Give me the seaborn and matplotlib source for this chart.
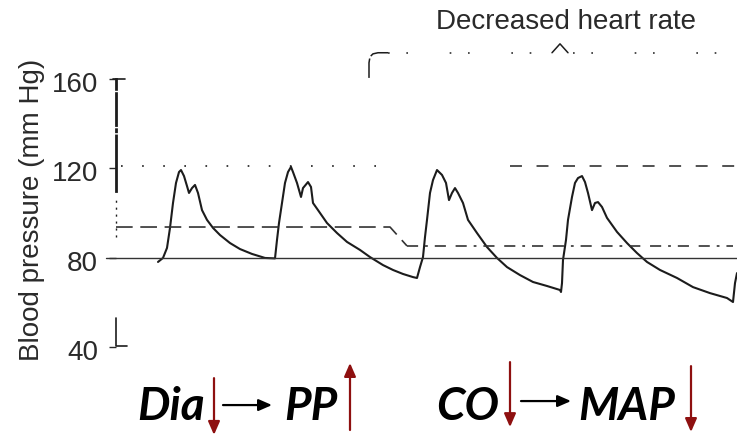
import matplotlib
matplotlib.use("Agg")
import matplotlib.pyplot as plt
from matplotlib.patches import FancyArrowPatch
from matplotlib.transforms import ScaledTranslation
import pandas as pd
import seaborn as sns

# ==============================
# Data (time in s, pressure in mmHg)
# ==============================
t_beat1 = [1.58, 1.63, 1.67, 1.70, 1.73, 1.76, 1.79, 1.81, 1.84, 1.87, 1.89, 1.92,
           1.95, 1.98, 2.02, 2.07, 2.13, 2.20, 2.30, 2.40, 2.52, 2.65, 2.75]
p_beat1 = [78.0, 79.8, 84.3, 93.3, 104.5, 113.5, 118.4, 119.3, 116.6, 112.1, 109.0, 111.2,
           112.6, 109.0, 101.3, 96.9, 93.3, 90.1, 86.5, 83.8, 81.6, 79.8, 79.6]

t_beat2 = [2.77, 2.79, 2.82, 2.85, 2.88, 2.91, 2.93, 2.97, 3.01, 3.03, 3.08, 3.11,
           3.13, 3.18, 3.27, 3.37, 3.47, 3.60, 3.70, 3.83, 3.93, 4.03, 4.13]
p_beat2 = [87.9, 95.5, 104.5, 113.5, 118.4, 120.7, 118.4, 113.5, 107.2, 111.2, 113.9, 111.7,
           104.5, 101.3, 95.5, 91.0, 87.0, 83.4, 80.2, 76.6, 74.4, 72.6, 71.2]

t_beat3 = [4.17, 4.20, 4.23, 4.25, 4.27, 4.30, 4.33, 4.37, 4.42, 4.46, 4.49, 4.52,
           4.55, 4.58, 4.63, 4.68, 4.77, 4.87, 4.97, 5.07, 5.20, 5.33, 5.47, 5.60]
p_beat3 = [70.8, 75.7, 80.2, 89.2, 96.9, 109.0, 114.8, 119.3, 117.1, 113.5, 105.8, 109.0,
           111.2, 109.0, 104.5, 96.9, 91.0, 84.7, 79.8, 75.7, 72.1, 69.0, 67.2, 65.4]

t_beat4 = [5.61, 5.62, 5.63, 5.66, 5.68, 5.72, 5.75, 5.78, 5.82, 5.85, 5.88, 5.92, 5.95, 5.98,
           6.02, 6.07, 6.17, 6.27, 6.37, 6.47, 6.60, 6.77, 6.93, 7.10, 7.27, 7.33, 7.35, 7.37]
p_beat4 = [64.5, 68.5, 78.9, 87.9, 96.9, 107.2, 113.5, 115.7, 116.6, 113.9, 109.0, 101.3, 104.5, 104.9,
           102.7, 97.8, 91.5, 86.5, 82.0, 78.0, 74.4, 70.8, 66.7, 64.0, 61.8, 60.0, 68.5, 73.0]

# reference levels (mmHg) and where they run (s)
base_level = 80
base_t = [1.06, 7.37]
sys_level = 121
sys_t_before = [1.21, 3.90]
sys_t_after = [5.10, 7.37]
map_t_before = [1.16, 3.90, 4.07]
map_p_before = [93.7, 93.7, 85.2]
map_t_after = [4.07, 7.33]
map_level_after = 85.2

# bracket over the slow beats
brace_t = [3.69, 3.69, 3.70, 3.73, 3.78, 3.88]
brace_p = [160.7, 167.5, 170.2, 171.5, 172.0, 172.0]
brace_span_t = [3.88, 7.37]
brace_level = 172.0
brace_peak_t = [5.52, 5.60, 5.68]
brace_peak_p = [172.0, 176.0, 172.0]

y_ticks = [40, 80, 120, 160]
axis_x = 1.16
axis_dotted = [89.2, 106.7]
axis_foot_t = [1.16, 1.16, 1.27]
axis_foot_p = [52.8, 40.2, 40.2]

bottom_words = ["Dia", "PP", "CO", "MAP"]
bottom_x = [1.37, 2.84, 4.36, 5.78]
red_x = [2.14, 3.50, 5.10, 6.91]
red_from = [25.8, 2.5, 33.0, 31.2]
red_to = [0.3, 32.6, 3.8, 1.6]
black_from = [2.23, 5.21]
black_to = [2.72, 5.71]
black_p = [13.7, 15.5]

# ==============================
# Figure
# ==============================
sns.set_style("white")
plt.rcParams["font.family"] = ["Liberation Sans", "DejaVu Sans"]
plt.rcParams["lines.scale_dashes"] = False

ink = "#1c1c1c"
dark_red = "#8e1010"

fig = plt.figure(figsize=(7.37, 4.36), dpi=100)
ax = fig.add_axes([0, 0, 1, 1])

wave = pd.DataFrame({
    "t": t_beat1 + t_beat2 + t_beat3 + t_beat4,
    "p": p_beat1 + p_beat2 + p_beat3 + p_beat4,
})
sns.lineplot(data=wave, x="t", y="p", sort=False, estimator=None,
             color=ink, lw=1.5, ax=ax)
ax.set_xlabel("")

# reference lines
ax.plot(base_t, [base_level] * 2, color="#333333", lw=1.0)
ax.plot(sys_t_before, [sys_level] * 2, color=ink, lw=1.2, ls=(0, (1.2, 14)))
ax.plot(sys_t_after, [sys_level] * 2, color="#333333", lw=1.2, ls=(0, (8.6, 10.5)))
ax.plot(map_t_before, map_p_before, color="#333333", lw=1.2, ls=(0, (12, 5.5)))
ax.plot(map_t_after, [map_level_after] * 2, color="#333333", lw=1.2,
        ls=(0, (8, 5, 2, 5, 8, 7)))

# bracket + label
ax.plot(brace_t, brace_p, color=ink, lw=1.1, ls=(0, (14, 2)))
ax.plot(brace_span_t, [brace_level] * 2, color=ink, lw=1.1, ls=(0, (1.2, 12, 1.2, 30)))
ax.plot(brace_peak_t, brace_peak_p, color=ink, lw=1.1)
ax.text(5.66, 185.8, "Decreased heart rate", ha="center", va="center",
        fontsize=20, color="#2a2a2a")

# broken y axis
for side in ["top", "right", "bottom"]:
    ax.spines[side].set_visible(False)
ax.spines["left"].set_position(("data", axis_x))
ax.spines["left"].set_bounds(109.9, 160)
ax.spines["left"].set_linewidth(2.0)
ax.spines["left"].set_color(ink)
ax.spines["left"].set_linestyle((0, (40, 3, 1.5, 3, 23, 3)))
ax.plot([axis_x] * 2, axis_dotted, color=ink, lw=1.0, ls=(0, (1.5, 3.5)))
ax.plot([1.13, 1.25], [160, 160], color=ink, lw=1.2)
ax.plot(axis_foot_t, axis_foot_p, color=ink, lw=1.2)

ax.set_yticks(y_ticks)
ax.set_xticks([])
ax.tick_params(axis="y", left=True, length=5, width=1.0, pad=8,
               labelsize=20, colors="#2a2a2a")
shift = ScaledTranslation(0, -3 / 100, fig.dpi_scale_trans)
for lab in ax.get_yticklabels():
    lab.set_transform(lab.get_transform() + shift)
ax.set_ylabel("Blood pressure (mm Hg)", fontsize=20, color="#2a2a2a")
ax.yaxis.set_label_coords(45 / 737, 1 - 210 / 436)

ax.set_xlim(0, 7.37)
ax.set_ylim(-0.2, 195.7)

# bottom annotation
for word, x in zip(bottom_words, bottom_x):
    ax.text(x, 7.0, word, ha="left", va="baseline", fontsize=33,
            family=["Lato", "DejaVu Sans"], weight="bold", style="italic", color="black")
head = "-|>,head_length=0.8,head_width=0.35"
for x, a, b in zip(red_x, red_from, red_to):
    ax.add_patch(FancyArrowPatch((x, a), (x, b), arrowstyle=head, color=dark_red,
                                 lw=1.6, mutation_scale=10, shrinkA=0, shrinkB=0))
for a, b, p in zip(black_from, black_to, black_p):
    ax.add_patch(FancyArrowPatch((a, p), (b, p), arrowstyle=head, color="black",
                                 lw=1.6, mutation_scale=10, shrinkA=0, shrinkB=0))

fig.savefig("out.png", dpi=100)
